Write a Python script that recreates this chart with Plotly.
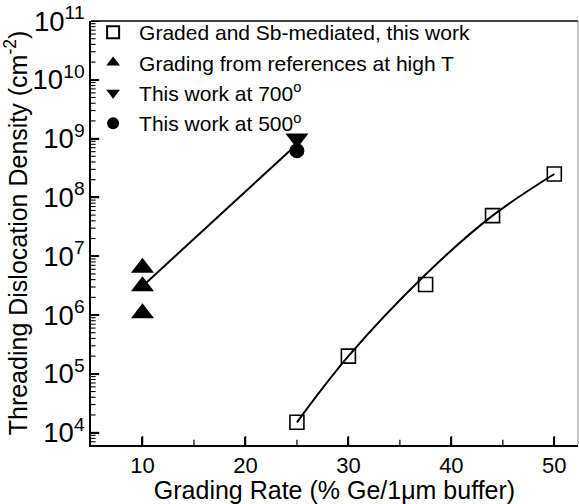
import plotly.graph_objects as go

# Data
sb_x = [25, 30, 37.5, 44, 50]
sb_y = [1.5e4, 2.0e5, 3.3e6, 4.9e7, 2.5e8]

# smooth guide curve through the Sb-mediated points
sb_fit_x = [25, 30, 37.5, 44, 50]
sb_fit_y = [1.5e4, 2.0e5, 4.9e6, 4.9e7, 2.5e8]

ref_x = [10, 10, 10]
ref_y = [6.4e6, 3.1e6, 1.07e6]

w700_x = [25]
w700_y = [1.0e9]

w500_x = [25]
w500_y = [6.2e8]

fit_high_x = [10, 25]
fit_high_y = [3.1e6, 8.0e8]

# axis ranges and tick positions
X_RANGE = [5, 52.3]
Y_LOG_RANGE = [3.79, 11.0]
x_major = [10, 20, 30, 40, 50]
x_minor = [15, 25, 35, 45]
y_major = [10.0 ** e for e in range(4, 12)]
y_minor = [m * 10.0 ** e for e in range(3, 11) for m in range(2, 10)
           if 10 ** Y_LOG_RANGE[0] <= m * 10.0 ** e <= 10 ** Y_LOG_RANGE[1]]

FONT = "Liberation Sans, Arial, sans-serif"

fig = go.Figure()

fig.add_trace(go.Scatter(x=sb_fit_x, y=sb_fit_y, mode="lines",
                         line=dict(color="black", width=2, shape="spline", smoothing=1.0),
                         showlegend=False, hoverinfo="skip"))
fig.add_trace(go.Scatter(x=fit_high_x, y=fit_high_y, mode="lines", line=dict(color="black", width=2),
                         showlegend=False, hoverinfo="skip"))

fig.add_trace(go.Scatter(x=sb_x, y=sb_y, mode="markers", name="Graded and Sb-mediated, this work",
                         marker=dict(symbol="square-open", size=14, color="black", line=dict(width=1.6))))
fig.add_trace(go.Scatter(x=ref_x, y=ref_y, mode="markers", name="Grading from references at high T",
                         marker=dict(symbol="triangle-up", size=20, color="black")))
fig.add_trace(go.Scatter(x=w700_x, y=w700_y, mode="markers", name="This work at 700<sup>o</sup>",
                         marker=dict(symbol="triangle-down", size=20, color="black")))
fig.add_trace(go.Scatter(x=w500_x, y=w500_y, mode="markers", name="This work at 500<sup>o</sup>",
                         marker=dict(symbol="circle", size=15, color="black")))

xaxis_cfg = dict(
    range=X_RANGE, tickvals=x_major, ticks="inside", ticklen=8, tickwidth=1.5, tickcolor="black",
    showline=True, linecolor="black", linewidth=2, mirror=False, showgrid=False, zeroline=False,
    tickfont=dict(size=22), layer="above traces",
    title=dict(text="Grading Rate (% Ge/1\u03bcm buffer)", font=dict(size=25), standoff=0),
)
yaxis_cfg = dict(
    type="log", range=Y_LOG_RANGE, tick0=0, dtick=1, exponentformat="power", showexponent="all",
    ticks="inside", ticklen=8, tickwidth=1.5, tickcolor="black", layer="above traces",
    showline=True, linecolor="black", linewidth=2, mirror=False, showgrid=False, zeroline=False,
    tickfont=dict(size=22),
    title=dict(text="Threading Dislocation Density (cm<sup>-2</sup>)", font=dict(size=25), standoff=2),
)

shapes = [
    dict(type="line", xref="paper", yref="paper", x0=0, x1=1, y0=1, y1=1,
         line=dict(color="black", width=1.5)),
    dict(type="line", xref="paper", yref="paper", x0=1, x1=1, y0=0, y1=1,
         line=dict(color="#888888", width=1)),
]
# tick marks inside the frame, in data coordinates of each axis
y_bottom = 10 ** Y_LOG_RANGE[0]
for v in x_major + x_minor:
    f = 10 ** (0.15 if v in x_major else 0.09)
    shapes.append(dict(type="line", xref="x", yref="y", x0=v, x1=v, y0=y_bottom, y1=y_bottom * f,
                       layer="above", line=dict(color="black", width=1.6 if v in x_major else 1.2)))
for v in y_major + y_minor:
    d = 0.8 if v in y_major else 0.45
    shapes.append(dict(type="line", xref="x", yref="y", x0=X_RANGE[0], x1=X_RANGE[0] + d, y0=v, y1=v,
                       layer="above", line=dict(color="black", width=1.6 if v in y_major else 1.1)))

fig.update_layout(
    template="none",
    width=579, height=504,
    margin=dict(l=91, r=1, t=21, b=59),
    paper_bgcolor="white", plot_bgcolor="white",
    font=dict(family=FONT, size=20, color="black"),
    legend=dict(x=-0.008, y=1.021, xanchor="left", yanchor="top", bgcolor="rgba(0,0,0,0)",
                font=dict(size=21), itemsizing="constant", tracegroupgap=0, itemwidth=42),
    showlegend=True,
    xaxis=xaxis_cfg,
    yaxis=yaxis_cfg,
    shapes=shapes,
)

fig.write_html("out.html")
